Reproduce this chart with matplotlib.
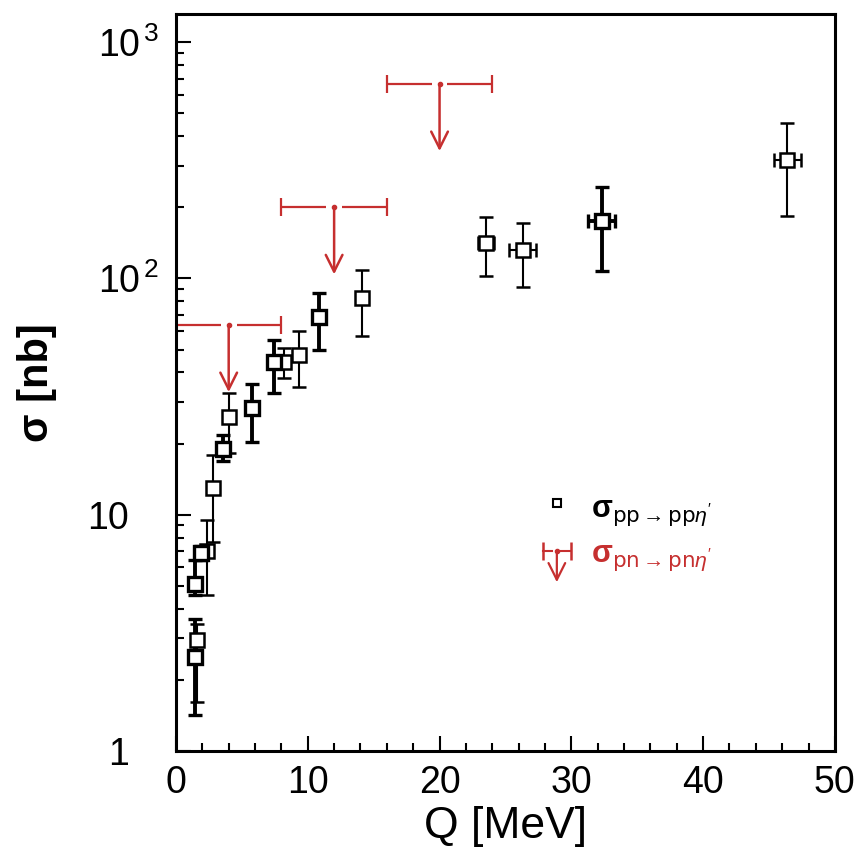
import matplotlib.pyplot as plt
import numpy as np
from matplotlib.ticker import MultipleLocator, LogLocator, FixedLocator, FixedFormatter, NullFormatter
from matplotlib.transforms import ScaledTranslation

plt.rcParams['font.family'] = ['Liberation Sans', 'DejaVu Sans']
plt.rcParams['mathtext.fontset'] = 'custom'
plt.rcParams['mathtext.rm'] = 'Liberation Sans'
plt.rcParams['mathtext.it'] = 'Liberation Sans:italic'
plt.rcParams['mathtext.bf'] = 'Liberation Sans:bold'

red = '#c62f2f'

# pp -> pp eta' , data sets drawn with thick error bars
q_thick = [1.45, 1.45, 1.9, 3.55, 5.8, 7.45, 10.85, 32.3]
sig_thick = [2.5, 5.1, 6.9, 19.0, 28.3, 44.3, 68.7, 175]
lo_thick = [1.42, 4.57, 6.4, 16.9, 20.3, 32.7, 49.8, 107]
hi_thick = [3.62, 6.4, 7.4, 21.7, 35.7, 54.8, 86.7, 244]
qerr_thick = [0, 0, 0, 0, 0, 0, 0, 1.05]

# pp -> pp eta' , data sets drawn with thin error bars
q_thin = [1.6, 2.35, 2.8, 4.0, 8.2, 9.3, 14.1, 23.5, 26.3, 46.4]
sig_thin = [2.95, 7.0, 13.0, 25.9, 44.3, 47.4, 82.6, 141, 132, 317]
lo_thin = [1.61, 4.57, 7.7, 18.2, 37.9, 34.7, 57, 102, 92, 184]
hi_thin = [3.45, 9.5, 17.9, 32.7, 50.7, 59.9, 108.6, 182, 172, 455]
qerr_thin = [0, 0, 0, 0, 0, 0, 0, 0.6, 1.05, 1.05]

# pn -> pn eta' upper limits
q_lim = [4, 12, 20]
qerr_lim = [4, 4, 4]
sig_lim = [63.5, 200, 665]
lim_arrow = 0.52  # arrow tip = limit * factor

ytick_vals = [1, 10, 100, 1000]
ytick_text = ['1', '10', r'$\mathregular{10^{\,2}}$', r'$\mathregular{10^{\,3}}$']

fig = plt.figure(figsize=(8.58, 8.63), dpi=100)
ax = fig.add_axes([0.2051, 0.1298, 0.768, 0.854])
ax.set_yscale('log')


def draw_set(q, s, lo, hi, dq, lw, mew):
    s = np.array(s)
    yerr = [s - np.array(lo), np.array(hi) - s]
    ax.errorbar(q, s, yerr=yerr, xerr=dq, fmt='s', ms=10, mfc='white', mec='black',
                mew=mew, ecolor='black', elinewidth=lw, capsize=5, capthick=lw, zorder=3)


draw_set(q_thin, sig_thin, lo_thin, hi_thin, qerr_thin, 1.5, 1.8)
draw_set(q_thick, sig_thick, lo_thick, hi_thick, qerr_thick, 2.8, 2.4)

# upper limits (red)
gap = 0.6
for q, dq, s in zip(q_lim, qerr_lim, sig_lim):
    ax.hlines(s, q - dq, q - gap, color=red, lw=1.6)
    ax.hlines(s, q + gap, q + dq, color=red, lw=1.6)
    ax.annotate('', xy=(q, s * lim_arrow), xytext=(q, s),
                arrowprops=dict(arrowstyle='->,head_length=0.6,head_width=0.3', color=red,
                                lw=1.8, shrinkA=0, shrinkB=0, mutation_scale=20))
ax.errorbar(q_lim, sig_lim, xerr=qerr_lim, fmt='none', elinewidth=0, capsize=6.5,
            capthick=1.6, ecolor=red)
ax.plot(q_lim, sig_lim, 'o', ms=3, color=red)

# legend
ax.plot([0.578], [0.3365], 's', ms=6, mfc='white', mec='black', mew=1.5, transform=ax.transAxes)
ax.text(0.63, 0.3175, r'$\mathbf{\sigma}_{\mathsf{pp}\rightarrow\mathsf{pp}\eta^{\prime}}$',
        transform=ax.transAxes, fontsize=22, va='baseline', ha='left')
ax.plot([0.557, 0.571], [0.271, 0.271], color=red, lw=1.5, transform=ax.transAxes)
ax.plot([0.585, 0.599], [0.271, 0.271], color=red, lw=1.5, transform=ax.transAxes)
ax.plot([0.557, 0.599], [0.271, 0.271], '|', ms=13, mew=1.8, color=red, transform=ax.transAxes)
ax.plot([0.578], [0.271], 'o', ms=3, color=red, transform=ax.transAxes)
ax.annotate('', xy=(0.578, 0.229), xytext=(0.578, 0.271), xycoords='axes fraction',
            arrowprops=dict(arrowstyle='->,head_length=0.6,head_width=0.3', color=red,
                            lw=1.6, shrinkA=0, shrinkB=0, mutation_scale=20))
ax.text(0.63, 0.2565, r'$\mathbf{\sigma}_{\mathsf{pn}\rightarrow\mathsf{pn}\eta^{\prime}}$',
        transform=ax.transAxes, fontsize=22, va='baseline', ha='left', color=red)

# axes
ax.set_xlim(0, 50)
ax.set_ylim(1, 1315)
ax.xaxis.set_major_locator(MultipleLocator(10))
ax.xaxis.set_minor_locator(MultipleLocator(2))
ax.yaxis.set_major_locator(FixedLocator(ytick_vals))
ax.yaxis.set_major_formatter(FixedFormatter(ytick_text))
ax.yaxis.set_minor_locator(LogLocator(base=10, subs=np.arange(2, 10)))
ax.yaxis.set_minor_formatter(NullFormatter())
ax.tick_params(which='both', direction='in', top=False, right=False, width=1.5)
ax.tick_params(which='major', length=11)
ax.tick_params(which='minor', length=5.5)
ax.tick_params(axis='x', labelsize=27, pad=10)
ax.tick_params(axis='y', labelsize=27, pad=34)
for sp in ax.spines.values():
    sp.set_linewidth(2.2)

for lab, txt in zip(ax.get_yticklabels(), ytick_text):
    if '^' in txt:
        lab.set_transform(lab.get_transform() + ScaledTranslation(0.30, 0.0, fig.dpi_scale_trans))

ax.set_xlabel('Q [MeV]', fontsize=32)
ax.xaxis.set_label_coords(0.5, -0.075)
ax.set_ylabel('σ [nb]', fontsize=30, fontweight='bold')
ax.yaxis.set_label_coords(-0.18, 0.5)

fig.savefig('out.png', dpi=100)
